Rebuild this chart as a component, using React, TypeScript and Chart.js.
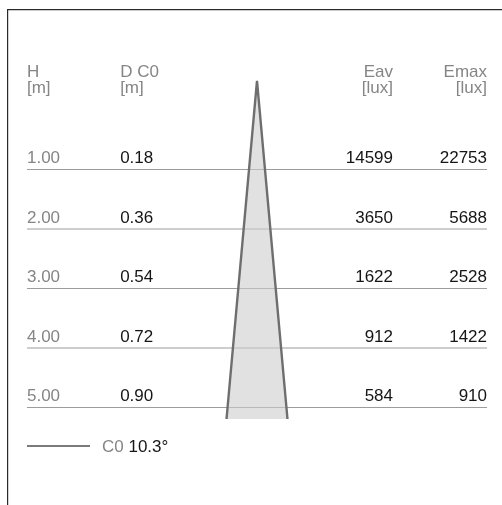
import React, { useEffect, useRef } from "react";
import { Chart, registerables } from "chart.js";

Chart.register(...registerables);

// ---- data ----
const heights = [1, 2, 3, 4, 5];
const heightLabels = ["1.00", "2.00", "3.00", "4.00", "5.00"];
const diameters = ["0.18", "0.36", "0.54", "0.72", "0.90"];
const eav = [14599, 3650, 1622, 912, 584];
const emax = [22753, 5688, 2528, 1422, 910];
const headerNames = ["H", "D C0", "Eav", "Emax"];
const headerUnits = ["[m]", "[m]", "[lux]", "[lux]"];
const beamAngle = 10.3;
const planeName = "C0";

// ---- layout (scale units: 1 unit = 1 m of height) ----
const PPU = 59.5;
const CX = 257;
const ROW1 = 169.5;
const W = 502;
const H = 505;
const xMin = -CX / PPU;
const xMax = (W - CX) / PPU;
const yMin = 1 - ROW1 / PPU;
const yMax = 1 + (H - ROW1) / PPU;
const tableL = -3.866;
const tableR = 3.866;
const colX = [-3.866, -2.3, 2.286, 3.866];
const colAlign: CanvasTextAlign[] = ["left", "left", "right", "right"];
const apexY = -0.49;
const baseY = 5.193;
const legendY = 5.647;
const legendLineEnd = -2.807;
const headerY1 = -0.555;
const headerY2 = -0.294;

const GRAY = "#858585";
const BLACK = "#151515";
const FONT = "17px 'Liberation Sans', Arial, sans-serif";

const half = (baseY - apexY) * Math.tan(((beamAngle / 2) * Math.PI) / 180);

const framePlugin = {
  id: "frame",
  beforeDraw(chart: any) {
    const ctx = chart.ctx;
    ctx.save();
    ctx.fillStyle = "#ffffff";
    ctx.fillRect(0, 0, chart.width, chart.height);
    ctx.strokeStyle = "#2a2a2a";
    ctx.lineWidth = 1.2;
    ctx.beginPath();
    ctx.moveTo(7.6, chart.height);
    ctx.lineTo(7.6, 9.6);
    ctx.lineTo(chart.width, 9.6);
    ctx.stroke();
    ctx.restore();
  },
};

const textPlugin = {
  id: "tableText",
  afterDatasetsDraw(chart: any) {
    const ctx = chart.ctx;
    const xs = chart.scales.x;
    const ys = chart.scales.y;
    ctx.save();
    ctx.font = FONT;
    ctx.textBaseline = "alphabetic";
    // headers
    headerNames.forEach((name, i) => {
      ctx.textAlign = colAlign[i];
      ctx.fillStyle = GRAY;
      ctx.fillText(name, xs.getPixelForValue(colX[i]), ys.getPixelForValue(headerY1));
      ctx.fillText(headerUnits[i], xs.getPixelForValue(colX[i]), ys.getPixelForValue(headerY2));
    });
    // rows
    heights.forEach((h, r) => {
      const y = ys.getPixelForValue(h) - 6.5;
      const vals = [heightLabels[r], diameters[r], String(eav[r]), String(emax[r])];
      vals.forEach((v, i) => {
        ctx.textAlign = colAlign[i];
        ctx.fillStyle = i === 0 ? GRAY : BLACK;
        ctx.fillText(v, xs.getPixelForValue(colX[i]), y);
      });
    });
    // legend text
    const ly = ys.getPixelForValue(legendY) + 6.5;
    let lx = xs.getPixelForValue(legendLineEnd) + 12;
    ctx.textAlign = "left";
    ctx.fillStyle = GRAY;
    ctx.fillText(planeName, lx, ly);
    lx += ctx.measureText(planeName + " ").width;
    ctx.fillStyle = BLACK;
    ctx.fillText(beamAngle.toFixed(1) + "°", lx, ly);
    ctx.restore();
  },
};

export default function App() {
  const ref = useRef<HTMLCanvasElement | null>(null);
  useEffect(() => {
    if (!ref.current) return;
    const rowSets = heights.map((h) => ({
      data: [
        { x: tableL, y: h },
        { x: tableR, y: h },
      ],
      showLine: true,
      borderColor: "#9c9c9c",
      borderWidth: 1.2,
      pointRadius: 0,
      fill: false,
      order: 1,
    }));
    const chart = new Chart(ref.current, {
      type: "scatter",
      data: {
        datasets: [
          {
            data: [
              { x: -half, y: baseY },
              { x: 0, y: apexY },
              { x: half, y: baseY },
            ],
            showLine: true,
            borderColor: "#6e6e6e",
            borderWidth: 2.4,
            borderJoinStyle: "bevel",
            backgroundColor: "rgba(205,205,205,0.6)",
            pointRadius: 0,
            fill: "shape",
            tension: 0,
            order: 0,
          },
          ...rowSets,
          {
            data: [
              { x: tableL, y: legendY },
              { x: legendLineEnd, y: legendY },
            ],
            showLine: true,
            borderColor: "#7a7a7a",
            borderWidth: 2,
            pointRadius: 0,
            fill: false,
            order: 1,
          },
        ] as any,
      },
      options: {
        animation: false,
        responsive: false,
        maintainAspectRatio: false,
        layout: { padding: 0 },
        events: [],
        scales: {
          x: { type: "linear", min: xMin, max: xMax, display: false },
          y: { type: "linear", min: yMin, max: yMax, reverse: true, display: false },
        },
        plugins: {
          legend: { display: false },
          tooltip: { enabled: false },
        },
      },
      plugins: [framePlugin, textPlugin],
    });
    return () => chart.destroy();
  }, []);
  return (
    <div style={{ position: "fixed", left: 0, top: 0, width: W, height: H, overflow: "hidden", background: "#fff" }}>
      <canvas ref={ref} width={W} height={H} style={{ display: "block" }} />
    </div>
  );
}
